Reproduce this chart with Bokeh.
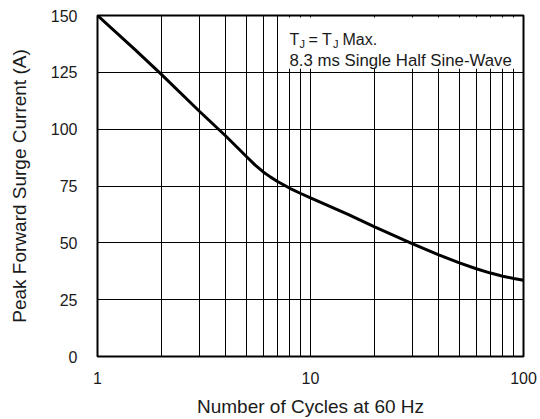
from bokeh.plotting import figure
from bokeh.models import Label, BoxAnnotation, FixedTicker, Range1d
from bokeh.embed import file_html
from bokeh.resources import INLINE

# data
cycles = [1, 1.5, 2, 3, 4, 5, 5.5, 6, 6.5, 7, 8, 9, 10, 15, 20, 30, 40, 50, 60, 70, 80, 90, 100]
current = [150, 135, 124, 108, 97, 88, 84.2, 81.2, 78.9, 77.0, 74.0, 71.7, 69.8, 62.5, 57, 49.7,
           44.7, 41.2, 38.6, 36.7, 35.3, 34.3, 33.5]

x_major = [1, 10, 100]
x_minor = [2, 3, 4, 5, 6, 7, 8, 9, 20, 30, 40, 50, 60, 70, 80, 90]
y_ticks = [0, 25, 50, 75, 100, 125, 150]

FONT = "Liberation Sans"

p = figure(width=540, height=419, x_axis_type="log",
           x_range=Range1d(1, 100), y_range=Range1d(0, 150),
           output_backend="svg", toolbar_location=None,
           min_border_left=97, min_border_right=17, min_border_top=15, min_border_bottom=58)

p.background_fill_color = "white"
p.border_fill_color = "white"
p.outline_line_color = "black"
p.outline_line_width = 2
p.outline_line_alpha = 1

p.xaxis.ticker = FixedTicker(ticks=x_major, minor_ticks=x_minor)
p.yaxis.ticker = FixedTicker(ticks=y_ticks)

p.xgrid.grid_line_color = "black"
p.xgrid.grid_line_width = 1
p.xgrid.grid_line_alpha = 1
p.xgrid.minor_grid_line_color = "black"
p.xgrid.minor_grid_line_width = 1
p.ygrid.grid_line_color = "black"
p.ygrid.grid_line_width = 1
p.ygrid.grid_line_alpha = 1

for ax in (p.xaxis[0], p.yaxis[0]):
    ax.axis_line_color = None
    ax.major_tick_line_color = None
    ax.minor_tick_line_color = None
    ax.major_label_text_font = FONT
    ax.major_label_text_font_size = "16px"
    ax.major_label_text_color = "#1a1a1a"
    ax.axis_label_text_font = FONT
    ax.axis_label_text_font_size = "19px"
    ax.axis_label_text_font_style = "normal"
    ax.axis_label_text_color = "#1a1a1a"

p.xaxis.axis_label = "Number of Cycles at 60 Hz"
p.yaxis.axis_label = "Peak Forward Surge Current (A)"
p.xaxis.major_label_standoff = 9
p.xaxis.axis_label_standoff = 9
p.yaxis.major_label_standoff = 14
p.yaxis.axis_label_standoff = 18
p.xaxis.major_label_overrides = {1: "1", 10: "10", 100: "100"}

p.line(cycles, current, line_color="black", line_width=3)

# note box
box = BoxAnnotation(left=7.3, right=98, bottom=126.6, top=149.1,
                    fill_color="white", fill_alpha=1, line_color=None, level="annotation")
p.add_layout(box)

def lab(text, dx, dy, size="16px"):
    p.add_layout(Label(x=1, y=150, x_offset=dx, y_offset=dy, text=text,
                       text_font=FONT, text_font_size=size, text_color="#1a1a1a",
                       text_baseline="alphabetic", text_align="left"))

lab("T", 192, -23.5)
lab("J", 202, -28, "11px")
lab("= T", 211, -23.5)
lab("J", 235.5, -28, "11px")
lab("Max.", 245, -23.5)
lab("8.3 ms Single Half Sine-Wave", 192, -44.7, "16.8px")

open("out.html", "w").write(file_html(p, INLINE))
